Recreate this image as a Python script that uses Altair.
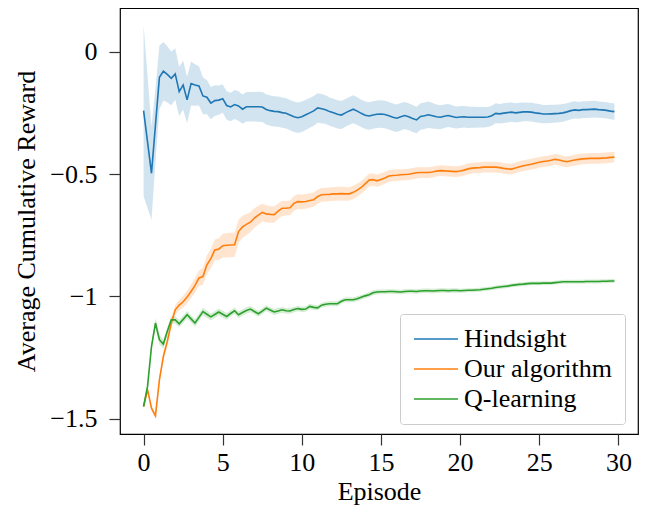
import altair as alt
import numpy as np
import pandas as pd

series_names = ["Hindsight", "Our algorithm", "Q-learning"]
series_colors = ["#1f77b4", "#ff7f0e", "#2ca02c"]

# episodes sampled every 0.25 from 0 to 29.75
episodes = [i * 0.25 for i in range(120)]

hindsight = [
    -0.241, -0.369, -0.497, -0.300, -0.105, -0.080, -0.093, -0.109,
    -0.091, -0.163, -0.136, -0.197, -0.130, -0.136, -0.140, -0.181,
    -0.186, -0.210, -0.200, -0.198, -0.192, -0.220, -0.226, -0.216,
    -0.222, -0.235, -0.225, -0.225, -0.225, -0.225, -0.226, -0.236,
    -0.241, -0.244, -0.245, -0.249, -0.252, -0.259, -0.266, -0.270,
    -0.266, -0.258, -0.250, -0.242, -0.230, -0.233, -0.237, -0.245,
    -0.250, -0.256, -0.259, -0.250, -0.242, -0.235, -0.243, -0.252,
    -0.260, -0.263, -0.259, -0.256, -0.255, -0.257, -0.262, -0.268,
    -0.272, -0.266, -0.261, -0.266, -0.273, -0.279, -0.265, -0.262,
    -0.258, -0.262, -0.266, -0.268, -0.264, -0.261, -0.265, -0.269,
    -0.267, -0.266, -0.268, -0.268, -0.268, -0.268, -0.268, -0.267,
    -0.262, -0.252, -0.254, -0.251, -0.249, -0.247, -0.250, -0.248,
    -0.246, -0.246, -0.247, -0.250, -0.252, -0.255, -0.255, -0.254,
    -0.253, -0.252, -0.250, -0.246, -0.241, -0.238, -0.240, -0.237,
    -0.237, -0.236, -0.235, -0.237, -0.238, -0.240, -0.243, -0.245,
]
hindsight_sd = [
    0.350, 0.270, 0.190, 0.150, 0.130, 0.120, 0.115, 0.110,
    0.105, 0.100, 0.100, 0.095, 0.090, 0.085, 0.080, 0.075,
    0.070, 0.066, 0.063, 0.060, 0.058, 0.058, 0.058, 0.059,
    0.060, 0.060, 0.060, 0.060, 0.060, 0.061, 0.061, 0.062,
    0.062, 0.062, 0.062, 0.062, 0.062, 0.062, 0.062, 0.062,
    0.062, 0.062, 0.061, 0.061, 0.060, 0.060, 0.059, 0.058,
    0.058, 0.058, 0.057, 0.057, 0.057, 0.057, 0.057, 0.056,
    0.056, 0.056, 0.056, 0.056, 0.056, 0.056, 0.056, 0.056,
    0.056, 0.056, 0.055, 0.055, 0.055, 0.054, 0.054, 0.054,
    0.054, 0.052, 0.050, 0.049, 0.048, 0.047, 0.046, 0.045,
    0.045, 0.044, 0.044, 0.043, 0.043, 0.042, 0.042, 0.041,
    0.041, 0.041, 0.040, 0.040, 0.040, 0.039, 0.039, 0.039,
    0.038, 0.038, 0.038, 0.038, 0.038, 0.037, 0.037, 0.037,
    0.036, 0.036, 0.036, 0.035, 0.035, 0.035, 0.034, 0.034,
    0.034, 0.034, 0.034, 0.033, 0.033, 0.033, 0.033, 0.033,
]

ours = [
    -1.450, -1.381, -1.457, -1.488, -1.341, -1.245, -1.184, -1.109,
    -1.055, -1.036, -1.022, -1.003, -0.980, -0.955, -0.925, -0.919,
    -0.871, -0.846, -0.810, -0.807, -0.793, -0.791, -0.790, -0.789,
    -0.735, -0.716, -0.706, -0.697, -0.680, -0.668, -0.657, -0.663,
    -0.665, -0.666, -0.652, -0.640, -0.640, -0.638, -0.620, -0.613,
    -0.614, -0.612, -0.608, -0.605, -0.592, -0.585, -0.584, -0.583,
    -0.581, -0.581, -0.580, -0.581, -0.581, -0.575, -0.566, -0.555,
    -0.540, -0.525, -0.523, -0.528, -0.522, -0.516, -0.508, -0.506,
    -0.505, -0.503, -0.502, -0.501, -0.498, -0.495, -0.494, -0.494,
    -0.494, -0.492, -0.488, -0.486, -0.487, -0.488, -0.489, -0.490,
    -0.488, -0.484, -0.479, -0.476, -0.475, -0.474, -0.472, -0.472,
    -0.472, -0.472, -0.474, -0.477, -0.479, -0.480, -0.475, -0.470,
    -0.466, -0.463, -0.460, -0.456, -0.452, -0.449, -0.447, -0.444,
    -0.440, -0.443, -0.447, -0.450, -0.446, -0.443, -0.440, -0.438,
    -0.437, -0.436, -0.436, -0.436, -0.435, -0.434, -0.432, -0.431,
]
ours_sd = [
    0.008, 0.010, 0.010, 0.010, 0.015, 0.018, 0.020, 0.020,
    0.020, 0.022, 0.024, 0.026, 0.028, 0.030, 0.032, 0.035,
    0.038, 0.040, 0.042, 0.045, 0.048, 0.050, 0.050, 0.050,
    0.048, 0.045, 0.043, 0.041, 0.040, 0.038, 0.036, 0.035,
    0.034, 0.033, 0.032, 0.031, 0.030, 0.030, 0.030, 0.030,
    0.030, 0.030, 0.029, 0.029, 0.029, 0.028, 0.028, 0.028,
    0.028, 0.028, 0.028, 0.028, 0.027, 0.027, 0.027, 0.026,
    0.026, 0.026, 0.025, 0.025, 0.025, 0.024, 0.024, 0.024,
    0.024, 0.023, 0.023, 0.023, 0.023, 0.023, 0.022, 0.022,
    0.022, 0.022, 0.022, 0.022, 0.022, 0.022, 0.022, 0.022,
    0.022, 0.022, 0.022, 0.022, 0.022, 0.022, 0.022, 0.022,
    0.022, 0.022, 0.022, 0.022, 0.022, 0.022, 0.022, 0.022,
    0.022, 0.022, 0.022, 0.022, 0.022, 0.022, 0.022, 0.022,
    0.022, 0.022, 0.022, 0.022, 0.022, 0.022, 0.022, 0.022,
    0.022, 0.022, 0.022, 0.022, 0.022, 0.022, 0.022, 0.022,
]

qlearning = [
    -1.450, -1.368, -1.205, -1.109, -1.177, -1.195, -1.143, -1.096,
    -1.096, -1.112, -1.094, -1.075, -1.092, -1.109, -1.086, -1.062,
    -1.073, -1.084, -1.074, -1.064, -1.073, -1.082, -1.070, -1.059,
    -1.075, -1.066, -1.058, -1.052, -1.062, -1.071, -1.060, -1.048,
    -1.056, -1.064, -1.060, -1.055, -1.059, -1.060, -1.054, -1.050,
    -1.053, -1.052, -1.041, -1.045, -1.047, -1.036, -1.032, -1.030,
    -1.030, -1.030, -1.020, -1.014, -1.014, -1.014, -1.010, -1.004,
    -0.998, -0.993, -0.985, -0.982, -0.981, -0.981, -0.980, -0.980,
    -0.981, -0.982, -0.980, -0.979, -0.979, -0.980, -0.978, -0.977,
    -0.977, -0.978, -0.977, -0.976, -0.976, -0.977, -0.976, -0.976,
    -0.977, -0.976, -0.975, -0.975, -0.974, -0.973, -0.971, -0.969,
    -0.967, -0.964, -0.962, -0.960, -0.958, -0.955, -0.953, -0.951,
    -0.950, -0.948, -0.947, -0.947, -0.947, -0.946, -0.946, -0.946,
    -0.944, -0.942, -0.940, -0.940, -0.940, -0.940, -0.940, -0.940,
    -0.939, -0.939, -0.939, -0.939, -0.938, -0.938, -0.937, -0.937,
]
qlearning_sd = [
    0.005, 0.012, 0.016, 0.020, 0.020, 0.018, 0.016, 0.015,
    0.015, 0.015, 0.015, 0.015, 0.015, 0.015, 0.015, 0.015,
    0.015, 0.014, 0.014, 0.014, 0.014, 0.014, 0.013, 0.013,
    0.013, 0.013, 0.013, 0.013, 0.012, 0.012, 0.012, 0.012,
    0.012, 0.012, 0.012, 0.012, 0.011, 0.011, 0.011, 0.011,
    0.011, 0.011, 0.011, 0.011, 0.010, 0.010, 0.010, 0.010,
    0.010, 0.010, 0.010, 0.010, 0.010, 0.010, 0.010, 0.010,
    0.010, 0.010, 0.010, 0.010, 0.009, 0.009, 0.009, 0.009,
    0.009, 0.009, 0.009, 0.009, 0.009, 0.009, 0.009, 0.009,
    0.009, 0.009, 0.009, 0.009, 0.009, 0.009, 0.009, 0.009,
    0.008, 0.008, 0.008, 0.008, 0.008, 0.008, 0.008, 0.008,
    0.008, 0.008, 0.008, 0.008, 0.008, 0.008, 0.008, 0.008,
    0.008, 0.008, 0.008, 0.008, 0.008, 0.008, 0.008, 0.008,
    0.008, 0.008, 0.008, 0.008, 0.008, 0.008, 0.008, 0.008,
    0.008, 0.008, 0.008, 0.008, 0.008, 0.008, 0.008, 0.008,
]

x_ticks = [0, 5, 10, 15, 20, 25, 30]
y_ticks = [0, -0.5, -1, -1.5]

frames = []
for name, vals, sds in [
    ("Hindsight", hindsight, hindsight_sd),
    ("Our algorithm", ours, ours_sd),
    ("Q-learning", qlearning, qlearning_sd),
]:
    v = np.array(vals)
    s = np.array(sds)
    frames.append(pd.DataFrame({
        "episode": episodes,
        "value": v,
        "lo": v - s,
        "hi": v + s,
        "series": name,
    }))
df = pd.concat(frames, ignore_index=True)

FONT = "Liberation Serif"
FS = 26
LABEL_EXPR = ("datum.value < 0 ? '\u2212' + format(abs(datum.value), '~g')"
              " : format(datum.value, '~g')")

x_scale = alt.Scale(domain=[-1.49, 31.24], nice=False, zero=False)
y_scale = alt.Scale(domain=[-1.5625, 0.1785], nice=False, zero=False)
color_scale = alt.Scale(domain=series_names, range=series_colors)

x_axis = alt.Axis(values=x_ticks, title="Episode", grid=False, domain=False,
                  tickSize=11, tickWidth=1.2, tickColor="#333333",
                  labelFont=FONT, labelFontSize=FS, labelColor="#000000",
                  labelPadding=4, titleFont=FONT, titleFontSize=FS,
                  titleFontWeight="normal", titleColor="#000000", titlePadding=3,
                  labelExpr=LABEL_EXPR)
y_axis = alt.Axis(values=y_ticks, title="Average Cumulative Reward", grid=False,
                  domain=False, tickSize=11, tickWidth=1.2, tickColor="#333333",
                  labelFont=FONT, labelFontSize=FS, labelColor="#000000",
                  labelPadding=12, titleFont=FONT, titleFontSize=FS,
                  titleFontWeight="normal", titleColor="#000000", titlePadding=10,
                  labelExpr=LABEL_EXPR)

# horizontal line symbol, twice as wide as the symbol box
legend = alt.Legend(title=None, orient="none", legendX=280, legendY=306,
                    symbolType="M-2,0H2", symbolSize=484, symbolStrokeWidth=1.6,
                    symbolOffset=11, symbolOpacity=1,
                    labelFont=FONT, labelFontSize=FS,
                    labelColor="#000000", labelOffset=15, rowPadding=4,
                    padding=12, strokeColor="#cccccc", fillColor="#ffffff",
                    cornerRadius=3)

base = alt.Chart(df)

bands = base.mark_area(opacity=0.2, clip=True).encode(
    x=alt.X("episode:Q", scale=x_scale, axis=x_axis),
    y=alt.Y("lo:Q", scale=y_scale, axis=y_axis),
    y2="hi:Q",
    color=alt.Color("series:N", scale=color_scale, sort=series_names, legend=legend),
    detail="series:N",
)

lines = base.mark_line(strokeWidth=1.6, clip=True).encode(
    x=alt.X("episode:Q", scale=x_scale),
    y=alt.Y("value:Q", scale=y_scale),
    color=alt.Color("series:N", scale=color_scale, sort=series_names, legend=legend),
)

chart = alt.layer(bands, lines).properties(
    width=518, height=426,
    autosize=alt.AutoSizeParams(type="none"),
    padding={"left": 112, "top": 0, "right": 5, "bottom": 74},
    background="#ffffff",
).configure_view(stroke="#000000", strokeWidth=1.2)

chart.save("out.html", embed_options={"renderer": "svg", "actions": False})
